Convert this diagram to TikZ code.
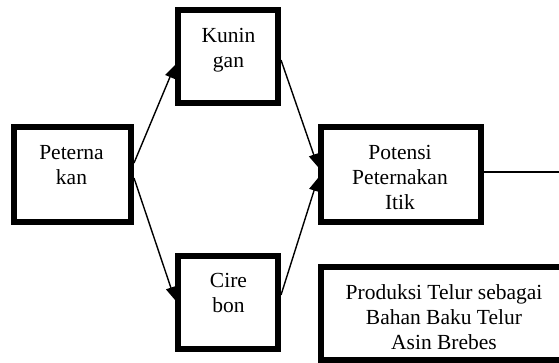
\documentclass[tikz,border=0pt]{standalone}
\usepackage{fontspec}
\setmainfont{Liberation Serif}
\usetikzlibrary{arrows.meta,calc}
\begin{document}
\begin{tikzpicture}[x=1pt,y=-1pt,
  box/.style={draw, line width=6pt, rectangle, inner sep=0pt},
  lbl/.style={align=center, inner sep=0pt, font=\fontsize{21.5}{25}\selectfont},
  link/.style={line width=1.4pt, -{Triangle[length=13pt,width=10pt]}},
  plainlink/.style={line width=1.4pt}]
\useasboundingbox (0,0) rectangle (559,362);
\clip (0,0) rectangle (559,362);

% frames
\node[box, minimum width=116.6pt, minimum height=95pt] (pet) at (72.7,174.5) {};
\node[box, minimum width=100pt, minimum height=93pt] (kun) at (228,56.5) {};
\node[box, minimum width=100pt, minimum height=93pt] (cir) at (228,302.5) {};
\node[box, minimum width=160pt, minimum height=95pt] (pot) at (401,174.5) {};
\node[box, minimum width=249pt, minimum height=93pt] (prod) at (445.5,313.5) {};

% labels
\node[lbl] (petT) at (71.5,165) {Peterna\\kan};
\node[lbl] (kunT) at (228.5,50) {Kunin\\gan};
\node[lbl] (cirT) at (228.5,293) {Cire\\bon};
\node[lbl] (potT) at (400,177.5) {Potensi\\Peternakan\\Itik};
\node[lbl] (prodT) at (444,317.5) {Produksi Telur sebagai\\Bahan Baku Telur\\Asin Brebes};

% connectors
\coordinate (potEnd) at (562,172);
\draw[link] ($(pet.east)+(0,-11.5)$) -- ($(kun.west)+(0,8.5)$);
\draw[link] ($(pet.east)+(0,3.5)$) -- ($(cir.west)+(0,-2.5)$);
\draw[link] ($(kun.east)+(0,3.5)$) -- ($(pot.west)+(0,-7.5)$);
\draw[link] ($(cir.east)+(0,-7.5)$) -- ($(pot.west)+(0,3.5)$);
\draw[plainlink] ($(pot.east)+(0,-2.5)$) -- (potEnd);
\end{tikzpicture}
\end{document}
